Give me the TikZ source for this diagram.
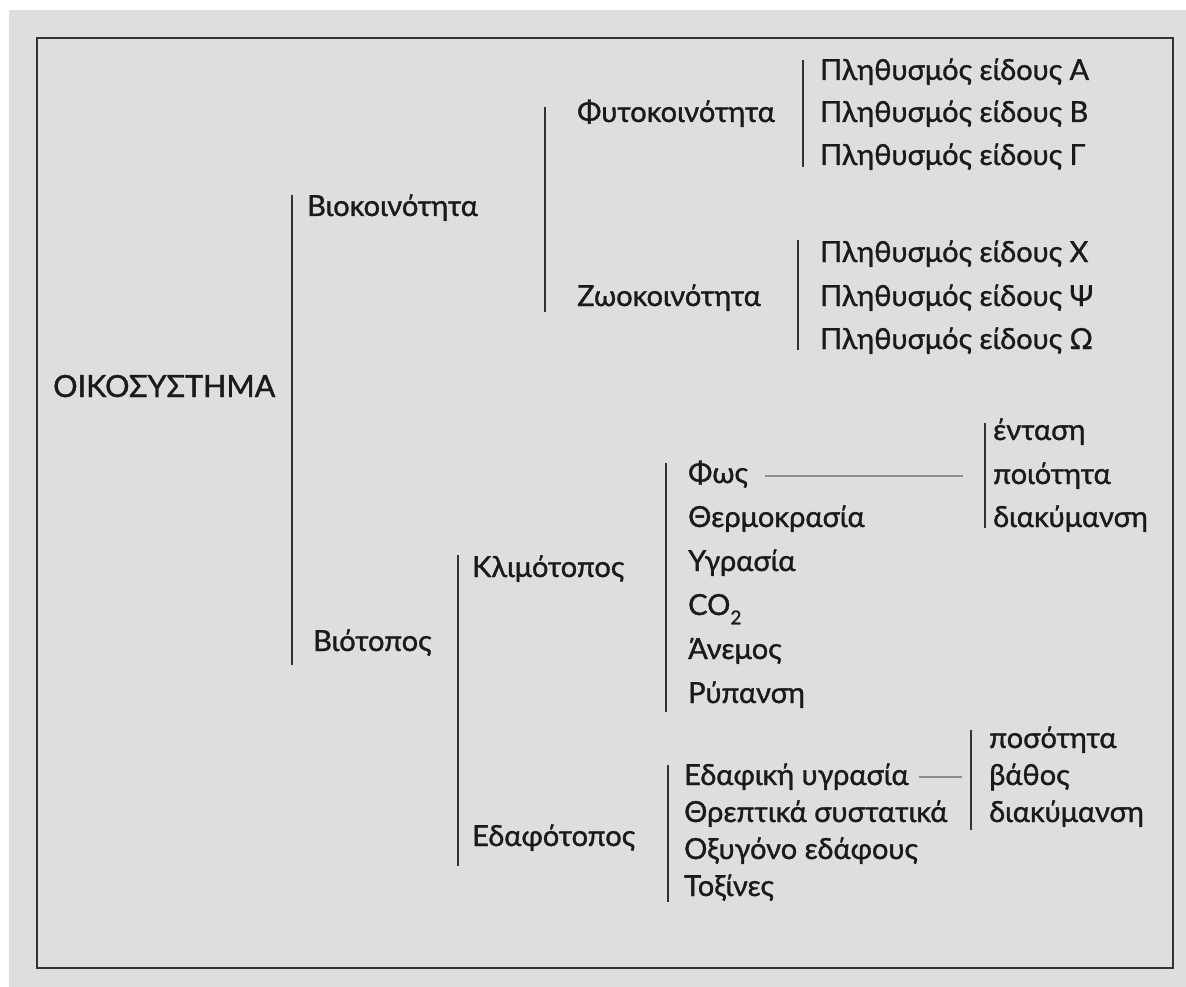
\documentclass[tikz,border=0pt]{standalone}
\usepackage{fontspec}
\setmainfont{Lato}
\newfontfamily\lbfont{Lato}[FakeBold=1.2]
\definecolor{bg}{HTML}{DEDEDE}
\definecolor{txt}{HTML}{1A1A1A}
\definecolor{barc}{HTML}{333333}
\definecolor{thin}{HTML}{8C8C8C}
\begin{document}
\begin{tikzpicture}[x=1pt,y=-1pt,
  lbl/.style={anchor=base west, inner sep=0pt, text=txt, font=\lbfont\fontsize{29}{35}\selectfont},
  bar/.style={draw=barc, line width=2pt},
  thinline/.style={draw=thin, line width=1.2pt}]
\useasboundingbox (0,0) rectangle (1186,987);
\fill[white] (0,0) rectangle (1186,987);
\fill[bg] (9,10) rectangle (1186,987);
\draw[draw=barc, line width=2.4pt] (37,38) rectangle (1173,968);

% level 0
\node[lbl, font=\lbfont\fontsize{30.5}{36}\selectfont] (oiko) at (53,397) {ΟΙΚΟΣΥΣΤΗΜΑ};
% level 1
\coordinate (b1t) at (292,195); \coordinate (b1b) at (292,665);
\draw[bar] (b1t) -- (b1b);
\node[lbl] (bioko) at (307,216) {Βιοκοινότητα};
\node[lbl] (bioto) at (313,651) {Βιότοπος};
% level 2 (biokoinotita)
\coordinate (b2t) at (545,107); \coordinate (b2b) at (545,312);
\draw[bar] (b2t) -- (b2b);
\node[lbl] (fyto) at (577,122) {Φυτοκοινότητα};
\node[lbl] (zoo) at (577,306) {Ζωοκοινότητα};
% populations
\coordinate (b3t) at (803,60); \coordinate (b3b) at (803,167);
\draw[bar] (b3t) -- (b3b);
\node[lbl] (pa) at (820,80) {Πληθυσμός είδους Α};
\node[lbl] (pb) at (820,122) {Πληθυσμός είδους Β};
\node[lbl] (pg) at (820,165) {Πληθυσμός είδους Γ};
\coordinate (b4t) at (798,240); \coordinate (b4b) at (798,350);
\draw[bar] (b4t) -- (b4b);
\node[lbl] (px) at (820,262) {Πληθυσμός είδους Χ};
\node[lbl] (pps) at (820,306) {Πληθυσμός είδους Ψ};
\node[lbl] (pw) at (820,349) {Πληθυσμός είδους Ω};
% level 2 (biotopos)
\coordinate (b5t) at (458,555); \coordinate (b5b) at (458,866);
\draw[bar] (b5t) -- (b5b);
\node[lbl] (klim) at (472,577) {Κλιμότοπος};
\node[lbl] (edaf) at (472,846) {Εδαφότοπος};
% climate factors
\coordinate (b6t) at (666,463); \coordinate (b6b) at (666,712);
\draw[bar] (b6t) -- (b6b);
\node[lbl] (fos) at (688,483) {Φως};
\node[lbl] (therm) at (688,527) {Θερμοκρασία};
\node[lbl] (ygr) at (688,571) {Υγρασία};
\node[lbl] (co) at (688,615) {CO\raisebox{-0.32em}{\fontsize{19}{19}\selectfont 2}};
\node[lbl] (anem) at (688,659) {Άνεμος};
\node[lbl] (ryp) at (688,703) {Ρύπανση};
\coordinate (b7t) at (985,423); \coordinate (b7b) at (985,528);
\draw[bar] (b7t) -- (b7b);
\node[lbl] (ent) at (993,440) {ένταση};
\node[lbl] (poi) at (993,484) {ποιότητα};
\node[lbl] (diak1) at (993,527) {διακύμανση};
\coordinate (d1a) at (765,476);
\coordinate (d1b) at (963,476);
\draw[thinline] (d1a) -- (d1b);
% soil factors
\coordinate (b8t) at (668,765); \coordinate (b8b) at (668,902);
\draw[bar] (b8t) -- (b8b);
\node[lbl] (egr) at (684,785) {Εδαφική υγρασία};
\node[lbl] (thr) at (684,822) {Θρεπτικά συστατικά};
\node[lbl] (oxy) at (684,859) {Οξυγόνο εδάφους};
\node[lbl] (tox) at (684,896) {Τοξίνες};
\coordinate (b9t) at (971,730); \coordinate (b9b) at (971,830);
\draw[bar] (b9t) -- (b9b);
\node[lbl] (pos) at (989,748) {ποσότητα};
\node[lbl] (vath) at (989,785) {βάθος};
\node[lbl] (diak2) at (989,822) {διακύμανση};
\coordinate (d2a) at (919,777);
\coordinate (d2b) at (962,777);
\draw[thinline] (d2a) -- (d2b);
\end{tikzpicture}
\end{document}
